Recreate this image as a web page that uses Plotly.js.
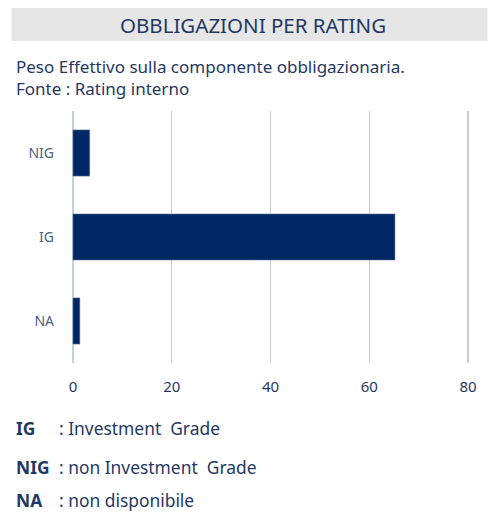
<!DOCTYPE html>
<html><head><meta charset="utf-8">
<script src="https://cdn.plot.ly/plotly-3.0.1.min.js"></script>
<style>html,body{margin:0;padding:0;background:#fff;}#chart{width:488px;height:513px;}</style>
</head><body><div id="chart"></div>
<script>
const categories = ['NA', 'IG', 'NIG'];
const weights = [1.4, 65.2, 3.4];
const xTicks = [0, 20, 40, 60, 80];
const legendKeys = ['IG', 'NIG', 'NA'];
const legendTexts = [': Investment\u00a0 Grade', ': non Investment\u00a0 Grade', ': non disponibile'];

const W = 488, H = 513;
const X0 = 72.5, X80 = 468.5, PAD = 1;           // pixel of x=0 and x=80, padding in data units
const upx = (X80 - X0) / 80;
const L = X0 - PAD * upx, R = X80 + PAD * upx, T = 111, B = 363;
const px = x => (x - L) / (R - L);
const py = y => (B - y) / (B - T);
const navy = '#1f3864';
const FONT = 'Noto Sans, DejaVu Sans, sans-serif';

const annotations = [
  {text: 'OBBLIGAZIONI PER RATING', x: px(253), y: py(25), xref: 'paper', yref: 'paper', xanchor: 'center', yanchor: 'middle', showarrow: false, font: {family: FONT, size: 20.5, color: navy}},
  {text: 'Peso Effettivo sulla componente obbligazionaria.<br>Fonte : Rating interno', x: px(13), y: py(77.5), xref: 'paper', yref: 'paper', xanchor: 'left', yanchor: 'middle', align: 'left', showarrow: false, font: {family: FONT, size: 17, color: navy}}
];
const rowY = [428, 467, 500];
legendKeys.forEach((k, i) => {
  annotations.push({text: '<b>' + k + '</b>', x: px(13), y: py(rowY[i]), xref: 'paper', yref: 'paper', xanchor: 'left', yanchor: 'middle', showarrow: false, font: {family: FONT, size: 17.4, color: navy}});
  annotations.push({text: legendTexts[i], x: px(57), y: py(rowY[i]), xref: 'paper', yref: 'paper', xanchor: 'left', yanchor: 'middle', showarrow: false, font: {family: FONT, size: 17.4, color: navy}});
});

const data = [{
  type: 'bar', orientation: 'h', y: categories, x: weights,
  marker: {color: '#002664', line: {color: '#6f85a8', width: 0.5}},
  hoverinfo: 'skip'
}];

const layout = {
  width: W, height: H,
  margin: {l: L, r: W - R, t: T, b: H - B, pad: 0},
  paper_bgcolor: '#fff', plot_bgcolor: '#fff',
  showlegend: false, bargap: 0.45,
  xaxis: {range: [-PAD, 80 + PAD], tickvals: xTicks, ticktext: xTicks.map(String), showgrid: true, gridcolor: '#c5d0d8', gridwidth: 1.5,
          zeroline: false, showline: false, ticks: '', ticklabelstandoff: 13, tickfont: {family: FONT, size: 15, color: navy}, fixedrange: true},
  yaxis: {type: 'category', categoryorder: 'array', categoryarray: categories, range: [-0.5, 2.5], showgrid: false, zeroline: false, showline: false, ticks: '',
          ticklabelstandoff: 13, tickfont: {family: FONT, size: 14, color: '#4a5f85'}, fixedrange: true},
  shapes: [{type: 'rect', xref: 'paper', yref: 'paper', x0: px(11), x1: px(488), y0: py(41), y1: py(8), fillcolor: '#e6e6e6', line: {width: 0}, layer: 'below'}],
  annotations: annotations
};
Plotly.newPlot('chart', data, layout, {displayModeBar: false, staticPlot: true});
</script></body></html>
